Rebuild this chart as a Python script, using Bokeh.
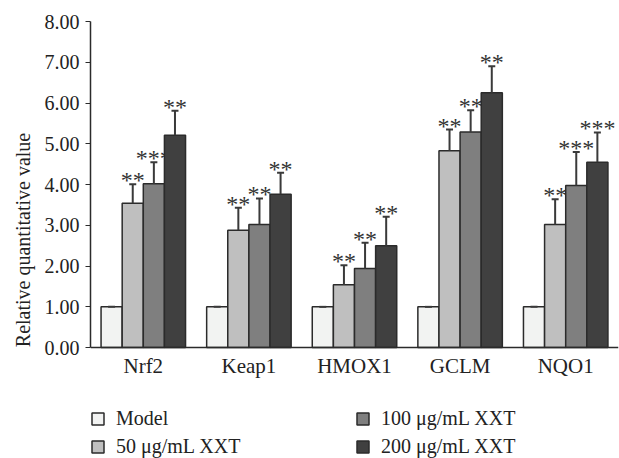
from bokeh.plotting import figure
from bokeh.models import (ColumnDataSource, FactorRange, Range1d, Legend, LegendItem,
                          FixedTicker, NumeralTickFormatter)
from bokeh.transform import dodge
from bokeh.core.properties import value
from bokeh.embed import file_html
from bokeh.resources import INLINE

# ---------------- data ----------------
genes = ["Nrf2", "Keap1", "HMOX1", "GCLM", "NQO1"]
series_labels = ["Model", "50 μg/mL XXT", "100 μg/mL XXT", "200 μg/mL XXT"]

model_vals = [1.00, 1.00, 1.00, 1.00, 1.00]
xxt50_vals = [3.54, 2.88, 1.54, 4.83, 3.02]
xxt100_vals = [4.02, 3.02, 1.94, 5.29, 3.98]
xxt200_vals = [5.21, 3.76, 2.50, 6.25, 4.55]

model_err = [0.00, 0.00, 0.00, 0.00, 0.00]
xxt50_err = [0.47, 0.55, 0.48, 0.52, 0.62]
xxt100_err = [0.53, 0.64, 0.63, 0.53, 0.82]
xxt200_err = [0.60, 0.53, 0.71, 0.65, 0.73]

model_sig = ["", "", "", "", ""]
xxt50_sig = ["**", "**", "**", "**", "**"]
xxt100_sig = ["***", "**", "**", "**", "***"]
xxt200_sig = ["**", "**", "**", "**", "***"]

y_ticks = [0, 1, 2, 3, 4, 5, 6, 7, 8]

# ---------------- styling ----------------
FONT = "Liberation Serif"
colors = ["#f2f3f2", "#bfbfbf", "#7f7f7f", "#404040"]
offsets = [-0.3, -0.1, 0.1, 0.3]
bar_w = 0.2

vals = [model_vals, xxt50_vals, xxt100_vals, xxt200_vals]
errs = [model_err, xxt50_err, xxt100_err, xxt200_err]
sigs = [model_sig, xxt50_sig, xxt100_sig, xxt200_sig]

data = {"gene": genes}
for i in range(4):
    data[f"v{i}"] = vals[i]
    data[f"t{i}"] = [v + e for v, e in zip(vals[i], errs[i])]
    data[f"s{i}"] = sigs[i]
src = ColumnDataSource(data)

# extra room below zero holds the category labels and the legend
p = figure(x_range=FactorRange(*genes, range_padding=0), y_range=Range1d(-2.72, 8),
           width=619, height=458, output_backend="svg", toolbar_location=None,
           min_border_left=90, min_border_right=1, min_border_top=21,
           min_border_bottom=0)
p.outline_line_color = None
p.grid.visible = False
p.background_fill_color = "white"

renderers = []
for i in range(4):
    xd = dodge("gene", offsets[i], range=p.x_range)
    r = p.vbar(x=xd, top=f"v{i}", bottom=0, width=bar_w, source=src,
               fill_color=colors[i], line_color="#2b2b2b", line_width=1.5)
    renderers.append(r)
    p.segment(x0=xd, y0=f"v{i}", x1=xd, y1=f"t{i}", source=src,
              line_color="#3a3a3a", line_width=2)
    p.scatter(x=xd, y=f"t{i}", marker="dash", size=7, source=src,
              line_color="#3a3a3a", line_width=2)
    p.text(x=xd, y=f"t{i}", text=f"s{i}", source=src, text_align="center",
           text_baseline="alphabetic", y_offset=-4,
           text_font=value(FONT), text_font_size="24px", text_color="#333333")

# axes
p.yaxis.ticker = FixedTicker(ticks=y_ticks)
p.yaxis.bounds = (0, 8)
p.yaxis.formatter = NumeralTickFormatter(format="0.00")
p.yaxis.minor_tick_line_color = None
p.yaxis.major_tick_in = 0
p.yaxis.major_tick_out = 5
p.yaxis.major_label_standoff = 6
p.yaxis.axis_label = "Relative quantitative value"
p.yaxis.axis_label_standoff = 8
p.yaxis.axis_label_text_font = FONT
p.yaxis.axis_label_text_font_style = "normal"
p.yaxis.axis_label_text_font_size = "20px"
p.yaxis.axis_label_text_color = "#222222"
p.yaxis.major_tick_line_color = "#2b2b2b"
p.yaxis.major_label_text_font_size = "20px"

p.xaxis.fixed_location = 0
p.xaxis.major_tick_line_color = None
p.xaxis.minor_tick_line_color = None
p.xaxis.major_tick_out = 0
p.xaxis.major_label_standoff = 6
p.xaxis.major_label_text_font_size = "21px"

for ax in (p.xaxis, p.yaxis):
    ax.axis_line_color = "#2b2b2b"
    ax.axis_line_width = 1.5
    ax.major_label_text_font = FONT
    ax.major_label_text_color = "#222222"

# legends (two columns)
common = dict(background_fill_alpha=0, border_line_color=None, padding=0, margin=0,
              glyph_width=15, glyph_height=15, label_standoff=11, spacing=5,
              label_height=22, label_text_font=FONT, label_text_font_size="20px",
              label_text_color="#222222")
leg1 = Legend(items=[LegendItem(label=series_labels[0], renderers=[renderers[0]]),
                     LegendItem(label=series_labels[1], renderers=[renderers[1]])],
              location=(0, 0), **common)
leg2 = Legend(items=[LegendItem(label=series_labels[2], renderers=[renderers[2]]),
                     LegendItem(label=series_labels[3], renderers=[renderers[3]])],
              location=(265, 0), **common)
p.add_layout(leg1)
p.add_layout(leg2)

open("out.html", "w").write(file_html(p, INLINE))
